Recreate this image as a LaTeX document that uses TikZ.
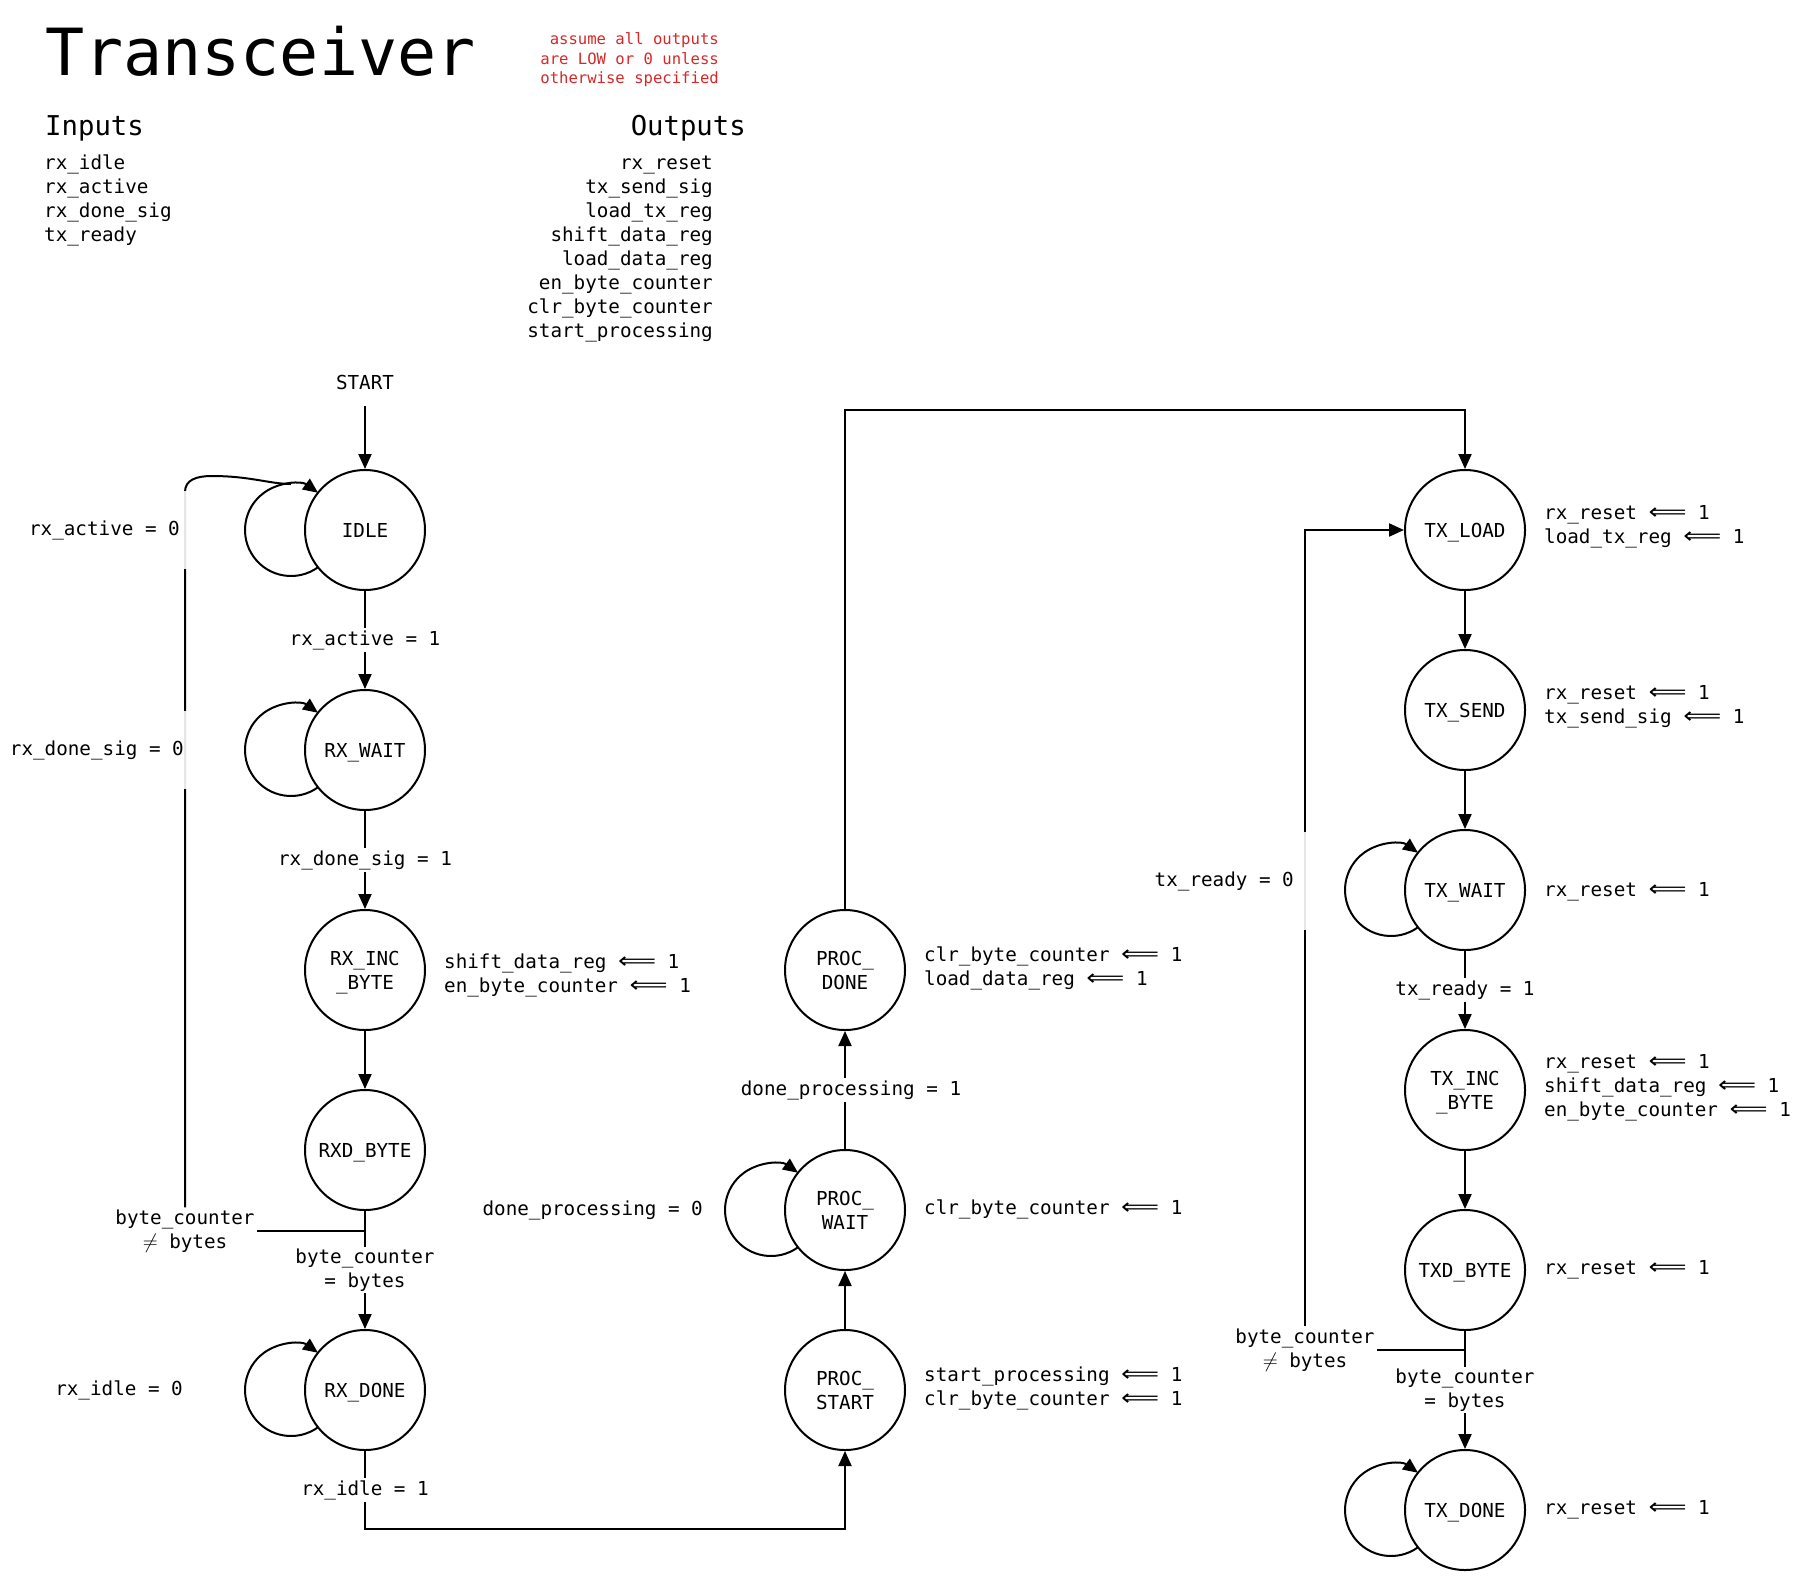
\documentclass[tikz,border=0pt]{standalone}
\usepackage{fontspec}
\setmainfont{DejaVu Sans Mono}
\newfontfamily\arrowfont{DejaVu Sans}
\usetikzlibrary{arrows.meta}
\definecolor{notered}{RGB}{214,40,40}
\newcommand\asg{\scalebox{1.38}[1.15]{\arrowfont ⟸}}
\begin{document}
\begin{tikzpicture}[x=1pt,y=-1pt,
  txt/.style={font=\fontsize{19.25}{24}\selectfont},
  every node/.style={txt},
  state/.style={circle,draw,line width=2pt,minimum size=120pt,inner sep=0pt,align=center,text depth=0pt},
  ln/.style={line width=2pt},
  arr/.style={ln,-{Triangle[length=15pt,width=13pt]}},
  lbl/.style={fill=white,inner sep=2pt,align=center},
  lpcond/.style={anchor=east,fill=white,fill opacity=0.9,text opacity=1,inner xsep=8pt,inner ysep=0pt},
  outl/.style={anchor=west,align=left,inner sep=0pt},
  head/.style={font=\fontsize{27.3}{32}\selectfont,inner sep=0pt},
  note/.style={font=\fontsize{15.6}{19.5}\selectfont,text=notered,inner sep=0pt,anchor=base east},
]
\useasboundingbox (0,0) rectangle (1801,1580);

% ---------- header ----------
\node[anchor=base west,inner sep=0pt,font=\fontsize{65}{70}\selectfont] (title) at (45,75) {Transceiver};
\node[note] (n1) at (719,44.5) {assume all outputs};
\node[note] (n2) at (719,64) {are LOW or 0 unless};
\node[note] (n3) at (719,83.5) {otherwise specified};

\node[head,anchor=base west] (inh) at (45,135.5) {Inputs};
\node[head,anchor=base east] (outh) at (746,135.5) {Outputs};
\foreach \t [count=\i from 0] in {rx\_idle,rx\_active,rx\_done\_sig,tx\_ready}
  \node[anchor=base west,inner sep=0pt] (in\i) at (44,169.5+24*\i) {\t};
\foreach \t [count=\i from 0] in {rx\_reset,tx\_send\_sig,load\_tx\_reg,shift\_data\_reg,load\_data\_reg,en\_byte\_counter,clr\_byte\_counter,start\_processing}
  \node[anchor=base east,inner sep=0pt] (out\i) at (713,169.5+24*\i) {\t};

% ---------- states ----------
\node (start) at (365,382) {START};
\node[state] (idle)   at (365,530)  {IDLE};
\node[state] (rxwait) at (365,750)  {RX\_WAIT};
\node[state] (rxinc)  at (365,970)  {RX\_INC\\\_BYTE};
\node[state] (rxd)    at (365,1150) {RXD\_BYTE};
\node[state] (rxdone) at (365,1390) {RX\_DONE};

\node[state] (procdone)  at (845,970)  {PROC\_\\DONE};
\node[state] (procwait)  at (845,1210) {PROC\_\\WAIT};
\node[state] (procstart) at (845,1390) {PROC\_\\START};

\node[state] (txload) at (1465,530)  {TX\_LOAD};
\node[state] (txsend) at (1465,710)  {TX\_SEND};
\node[state] (txwait) at (1465,890)  {TX\_WAIT};
\node[state] (txinc)  at (1465,1090) {TX\_INC\\\_BYTE};
\node[state] (txd)    at (1465,1270) {TXD\_BYTE};
\node[state] (txdone) at (1465,1510) {TX\_DONE};

% ---------- outputs of states ----------
\node[outl] (orxinc) at (444,975) {shift\_data\_reg \asg{} 1\\en\_byte\_counter \asg{} 1};
\node[outl] (oprocdone) at (924,968.5) {clr\_byte\_counter \asg{} 1\\load\_data\_reg \asg{} 1};
\node[outl] (oprocwait) at (924,1209) {clr\_byte\_counter \asg{} 1};
\node[outl] (oprocstart) at (924,1388) {start\_processing \asg{} 1\\clr\_byte\_counter \asg{} 1};
\node[outl] (otxload) at (1544,527) {rx\_reset \asg{} 1\\load\_tx\_reg \asg{} 1};
\node[outl] (otxsend) at (1544,707) {rx\_reset \asg{} 1\\tx\_send\_sig \asg{} 1};
\node[outl] (otxwait) at (1544,892) {rx\_reset \asg{} 1};
\node[outl] (otxinc) at (1544,1088) {rx\_reset \asg{} 1\\shift\_data\_reg \asg{} 1\\en\_byte\_counter \asg{} 1};
\node[outl] (otxd) at (1544,1270) {rx\_reset \asg{} 1};
\node[outl] (otxdone) at (1544,1510) {rx\_reset \asg{} 1};

% ---------- branch labels ----------
\node[align=center,inner sep=2pt] (neqrx) at (185,1231) {byte\_counter\\$\neq$ bytes};
\node[align=center,inner sep=2pt] (neqtx) at (1305,1350) {byte\_counter\\$\neq$ bytes};

% ---------- transitions ----------
\draw[arr,shorten <=13pt] (start) -- (idle);
\draw[arr] (idle) -- node[lbl]{rx\_active = 1} (rxwait);
\draw[arr] (rxwait) -- node[lbl]{rx\_done\_sig = 1} (rxinc);
\draw[arr] (rxinc) -- (rxd);
\draw[arr] (rxd) -- node[lbl]{byte\_counter\\= bytes} (rxdone);
\draw[arr] (rxdone) -- node[lbl]{rx\_idle = 1} (365,1529) -| (procstart);
\draw[arr] (procstart) -- (procwait);
\draw[arr] (procwait) -- node[lbl,xshift=6pt]{done\_processing = 1} (procdone);
\draw[arr] (procdone) -- (845,410) -| (txload);
\draw[arr] (txload) -- (txsend);
\draw[arr] (txsend) -- (txwait);
\draw[arr] (txwait) -- node[lbl]{tx\_ready = 1} (txinc);
\draw[arr] (txinc) -- (txd);
\draw[arr] (txd) -- node[lbl]{byte\_counter\\= bytes} (txdone);

% byte_counter != bytes branches
\coordinate (idleloop) at ([xshift=-74pt,yshift=46pt]idle.center);
\draw[ln] (rxd) |- (neqrx.east);
\draw[ln] (neqrx.north) -- (185,492) .. controls (185,480) and (196,476) .. (212,476)
          .. controls (250,476) and (270,484) .. (idleloop);
\draw[ln] (txd) |- (neqtx.east);
\draw[arr] (neqtx.north) |- (txload);

% self loops
\foreach \s in {idle,rxwait,rxdone,procwait,txwait,txdone}
  \draw[arr] ([xshift=-74pt]\s.center) ++(-54:46pt) arc[start angle=-54,end angle=-306,radius=46pt];

% self-loop conditions
\node[lpcond,minimum height=78pt] (c1) at (188,530) {rx\_active = 0};
\node[lpcond,minimum height=78pt] (c2) at (192,750) {rx\_done\_sig = 0};
\node[anchor=east,inner sep=0pt] (c3) at (183,1390) {rx\_idle = 0};
\node[anchor=east,inner sep=0pt] (c4) at (703,1210) {done\_processing = 0};
\node[lpcond,minimum height=98pt,inner xsep=14pt] (c5) at (1308,881) {tx\_ready = 0};
\end{tikzpicture}
\end{document}
